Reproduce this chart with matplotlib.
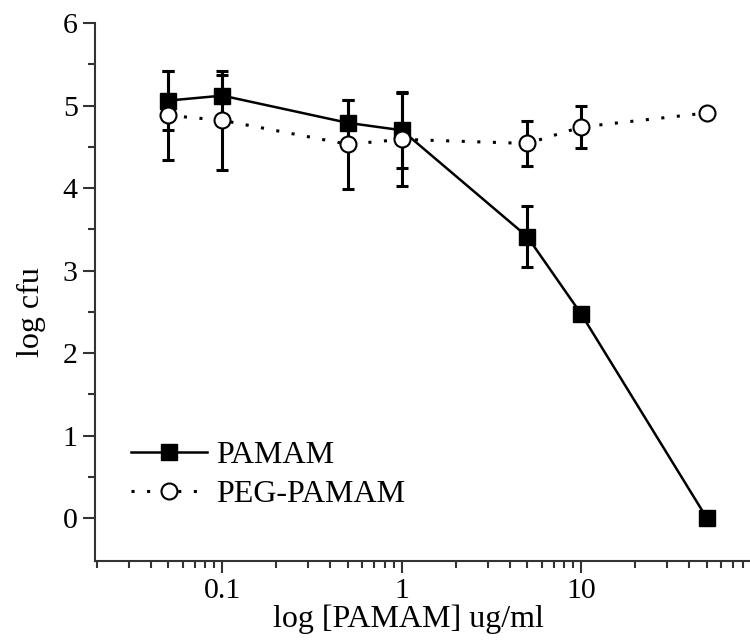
import matplotlib.pyplot as plt

plt.rcParams["font.family"] = ["Liberation Serif", "DejaVu Serif"]

# dose (ug/ml) and log cfu
dose = [0.05, 0.1, 0.5, 1, 5, 10, 50]
pamam = [5.06, 5.12, 4.79, 4.70, 3.41, 2.47, 0.0]
pamam_err = [0.36, 0.25, 0.28, 0.46, 0.37, 0.0, 0.0]
peg_pamam = [4.88, 4.82, 4.53, 4.59, 4.54, 4.74, 4.91]
peg_pamam_err = [0.54, 0.60, 0.54, 0.56, 0.27, 0.25, 0.0]

x_ticks = [0.1, 1, 10]
x_ticklabels = ["0.1", "1", "10"]
y_ticks = [0, 1, 2, 3, 4, 5, 6]

fig = plt.figure(figsize=(7.5, 6.42), dpi=100)
ax = fig.add_axes([95 / 750, 81 / 642, 655 / 750, 538 / 642])

# ------------------------------------------------------------
# error bars (drawn below the markers)
# ------------------------------------------------------------
ax.errorbar(dose, pamam, yerr=pamam_err, fmt="none", ecolor="black",
            elinewidth=2.2, capsize=4.5, capthick=2.2, zorder=2)
ax.errorbar(dose, peg_pamam, yerr=peg_pamam_err, fmt="none", ecolor="black",
            elinewidth=2.2, capsize=4.5, capthick=2.2, zorder=4)

# ------------------------------------------------------------
# lines and markers
# ------------------------------------------------------------
l1, = ax.plot(dose, pamam, color="black", lw=1.8, marker="s", ms=11,
              mfc="black", mec="black", zorder=3, label="PAMAM")
l2, = ax.plot(dose, peg_pamam, color="black", lw=2.2, ls=(0, (1, 4.1)),
              marker="o", ms=11.5, mfc="white", mec="black", mew=1.5,
              zorder=5, label="PEG-PAMAM")

ax.set_xscale("log")
ax.set_xlim(0.0195, 87)
ax.set_ylim(-0.52, 6)

ax.set_xticks(x_ticks)
ax.set_xticklabels(x_ticklabels)
ax.set_yticks(y_ticks)
ax.set_yticks([0.5, 1.5, 2.5, 3.5, 4.5, 5.5], minor=True)

for side in ["top", "right"]:
    ax.spines[side].set_visible(False)
for side in ["left", "bottom"]:
    ax.spines[side].set_linewidth(1.5)
    ax.spines[side].set_color("#333333")

ax.tick_params(which="major", direction="out", length=8.5, width=1.5,
               color="#333333", labelsize=21.5, pad=4)
ax.tick_params(which="minor", direction="out", length=5, width=1.5,
               color="#333333")

ax.set_xlabel("log [PAMAM] ug/ml", fontsize=23)
ax.set_ylabel("log cfu", fontsize=23)
ax.xaxis.set_label_coords(0.478, -0.08)
ax.yaxis.set_label_coords(-0.075, 0.463)

ax.legend(handles=[l1, l2], loc="center left",
          bbox_to_anchor=((131 - 95) / 655, 0.160), frameon=False,
          fontsize=23, handlelength=2.37, handletextpad=0.28,
          labelspacing=0.28, borderpad=0, borderaxespad=0)

fig.savefig("out.png", dpi=100)
plt.close(fig)
